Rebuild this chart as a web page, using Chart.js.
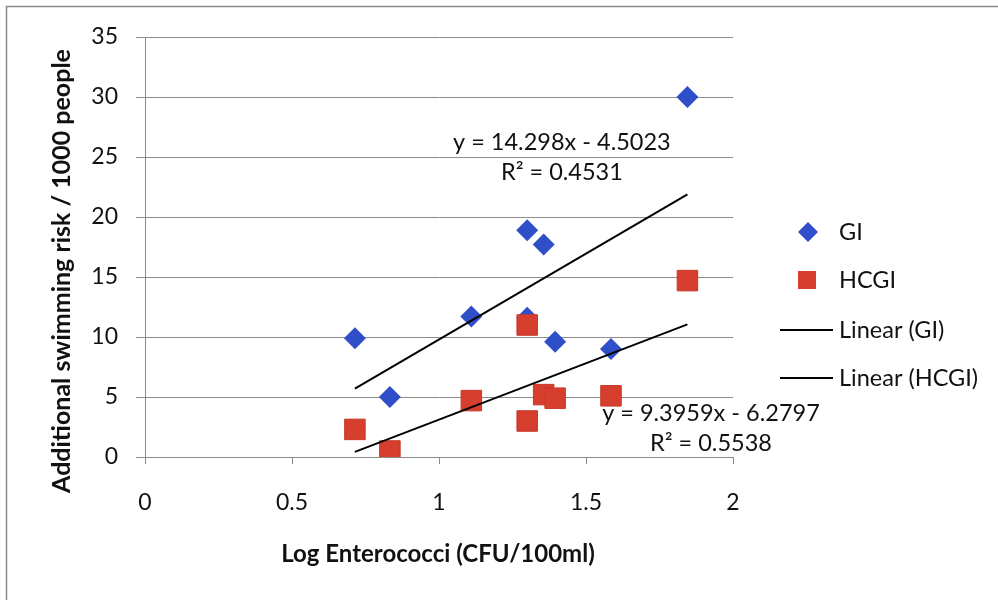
<!DOCTYPE html>
<html>
<head>
<meta charset="utf-8">
<script src="https://cdn.jsdelivr.net/npm/chart.js@4.4.1/dist/chart.umd.min.js"></script>
<style>
  html, body { margin: 0; padding: 0; background: #ffffff; }
  canvas { display: block; }
</style>
</head>
<body>
<canvas id="grafica" width="998" height="600"></canvas>
<script>
// datos
const logEntero = [0.714, 0.833, 1.11, 1.30, 1.30, 1.356, 1.395, 1.585, 1.845];
const riesgoGI = [9.9, 5.0, 11.7, 18.9, 11.6, 17.7, 9.6, 9.0, 30.0];
const riesgoHCGI = [2.3, 0.5, 4.7, 11.0, 3.0, 5.2, 4.9, 5.1, 14.7];
const coefGI = [14.298, -4.5023];     // pendiente, intercepto
const coefHCGI = [9.3959, -6.2797];
const etiquetasSerie = ['GI', 'HCGI', 'Linear (GI)', 'Linear (HCGI)'];
const textosEcuacion = ['y = 14.298x - 4.5023', 'R² = 0.4531', 'y = 9.3959x - 6.2797', 'R² = 0.5538'];
const ticksX = [0, 0.5, 1, 1.5, 2];
const ticksY = [0, 5, 10, 15, 20, 25, 30, 35];

const fuente = 'Lato, "Open Sans", sans-serif';
const azul = '#2f4fc9';
const rojo = '#d63e2e';

function puntos(xs, ys) {
    return xs.map((x, i) => ({ x: x, y: ys[i] }));
}

function tendencia(xs, coef) {
    const xmin = Math.min(...xs);
    const xmax = Math.max(...xs);
    return [xmin, xmax].map(x => ({ x: x, y: coef[0] * x + coef[1] }));
}

// leyenda, titulos de ejes, ecuaciones y marco
const decoracion = {
    id: 'decoracion',
    afterDraw(chart) {
        const ctx = chart.ctx;
        const sx = chart.scales.x;
        const sy = chart.scales.y;
        ctx.save();

        ctx.strokeStyle = '#8a8a8a';
        ctx.lineWidth = 1.5;
        ctx.strokeRect(6.5, 6.5, 1100, 1100);

        ctx.fillStyle = '#111';
        ctx.font = 'bold 24px ' + fuente;
        ctx.textAlign = 'center';
        ctx.textBaseline = 'middle';
        ctx.fillText('Log Enterococci (CFU/100ml)', 438, 554);
        ctx.save();
        ctx.font = 'bold 25px ' + fuente;
        ctx.translate(62, 271);
        ctx.rotate(-Math.PI / 2);
        ctx.fillText('Additional swimming risk / 1000 people', 0, 0);
        ctx.restore();

        ctx.font = '23.5px ' + fuente;
        const posEc = [[1.418, 26.2], [1.418, 23.7], [1.925, 3.65], [1.925, 1.15]];
        textosEcuacion.forEach((t, i) => {
            ctx.fillText(t, sx.getPixelForValue(posEc[i][0]), sy.getPixelForValue(posEc[i][1]));
        });

        // leyenda
        const ys = [232, 280, 330, 378];
        ctx.textAlign = 'left';
        etiquetasSerie.forEach((t, i) => {
            const y = ys[i];
            if (i === 0) {
                ctx.fillStyle = azul;
                ctx.beginPath();
                ctx.moveTo(808, y - 10);
                ctx.lineTo(818, y);
                ctx.lineTo(808, y + 10);
                ctx.lineTo(798, y);
                ctx.closePath();
                ctx.fill();
            } else if (i === 1) {
                ctx.fillStyle = rojo;
                ctx.fillRect(798, y - 9, 18, 18);
            } else {
                ctx.strokeStyle = '#000';
                ctx.lineWidth = 2;
                ctx.beginPath();
                ctx.moveTo(780, y);
                ctx.lineTo(833, y);
                ctx.stroke();
            }
            ctx.fillStyle = '#111';
            ctx.fillText(t, 839, y);
        });
        ctx.restore();
    }
};

const grafica = new Chart(document.getElementById('grafica').getContext('2d'), {
    type: 'scatter',
    data: {
        datasets: [{
            label: etiquetasSerie[0],
            data: puntos(logEntero, riesgoGI),
            pointStyle: 'rectRot',
            pointRadius: 11,
            pointHoverRadius: 11,
            backgroundColor: azul,
            borderColor: azul,
            borderWidth: 0,
            order: 3
        }, {
            label: etiquetasSerie[1],
            data: puntos(logEntero, riesgoHCGI),
            pointStyle: 'rect',
            pointRadius: 14.5,
            pointHoverRadius: 14.5,
            backgroundColor: rojo,
            borderColor: '#c8382a',
            borderWidth: 1,
            order: 2
        }, {
            label: etiquetasSerie[2],
            type: 'line',
            data: tendencia(logEntero, coefGI),
            borderColor: '#000',
            borderWidth: 2,
            pointRadius: 0,
            fill: false,
            order: 1
        }, {
            label: etiquetasSerie[3],
            type: 'line',
            data: tendencia(logEntero, coefHCGI),
            borderColor: '#000',
            borderWidth: 2,
            pointRadius: 0,
            fill: false,
            order: 1
        }]
    },
    options: {
        responsive: false,
        animation: false,
        layout: { padding: { left: 0, top: 37, right: 265, bottom: 0 } },
        plugins: {
            legend: { display: false },
            tooltip: { enabled: false }
        },
        scales: {
            x: {
                type: 'linear',
                min: 0,
                max: 2,
                afterBuildTicks: s => { s.ticks = ticksX.map(v => ({ value: v })); },
                afterFit: s => { s.height = 143; },
                grid: { drawOnChartArea: false, drawTicks: true, tickLength: 7, color: '#8c8c8c', lineWidth: 1 },
                border: { display: true, color: '#8c8c8c', width: 1 },
                ticks: { color: '#111', font: { family: fuente, size: 23 }, padding: 25, maxRotation: 0,
                         callback: v => String(v) }
            },
            y: {
                type: 'linear',
                min: 0,
                max: 35,
                afterBuildTicks: s => { s.ticks = ticksY.map(v => ({ value: v })); },
                afterFit: s => { s.width = 145; },
                grid: { drawOnChartArea: true, drawTicks: true, tickLength: 9, color: '#8c8c8c', lineWidth: 1 },
                border: { display: true, color: '#8c8c8c', width: 1 },
                ticks: { color: '#111', font: { family: fuente, size: 23 }, padding: 18,
                         callback: v => String(v) }
            }
        }
    },
    plugins: [decoracion]
});
</script>
</body>
</html>
